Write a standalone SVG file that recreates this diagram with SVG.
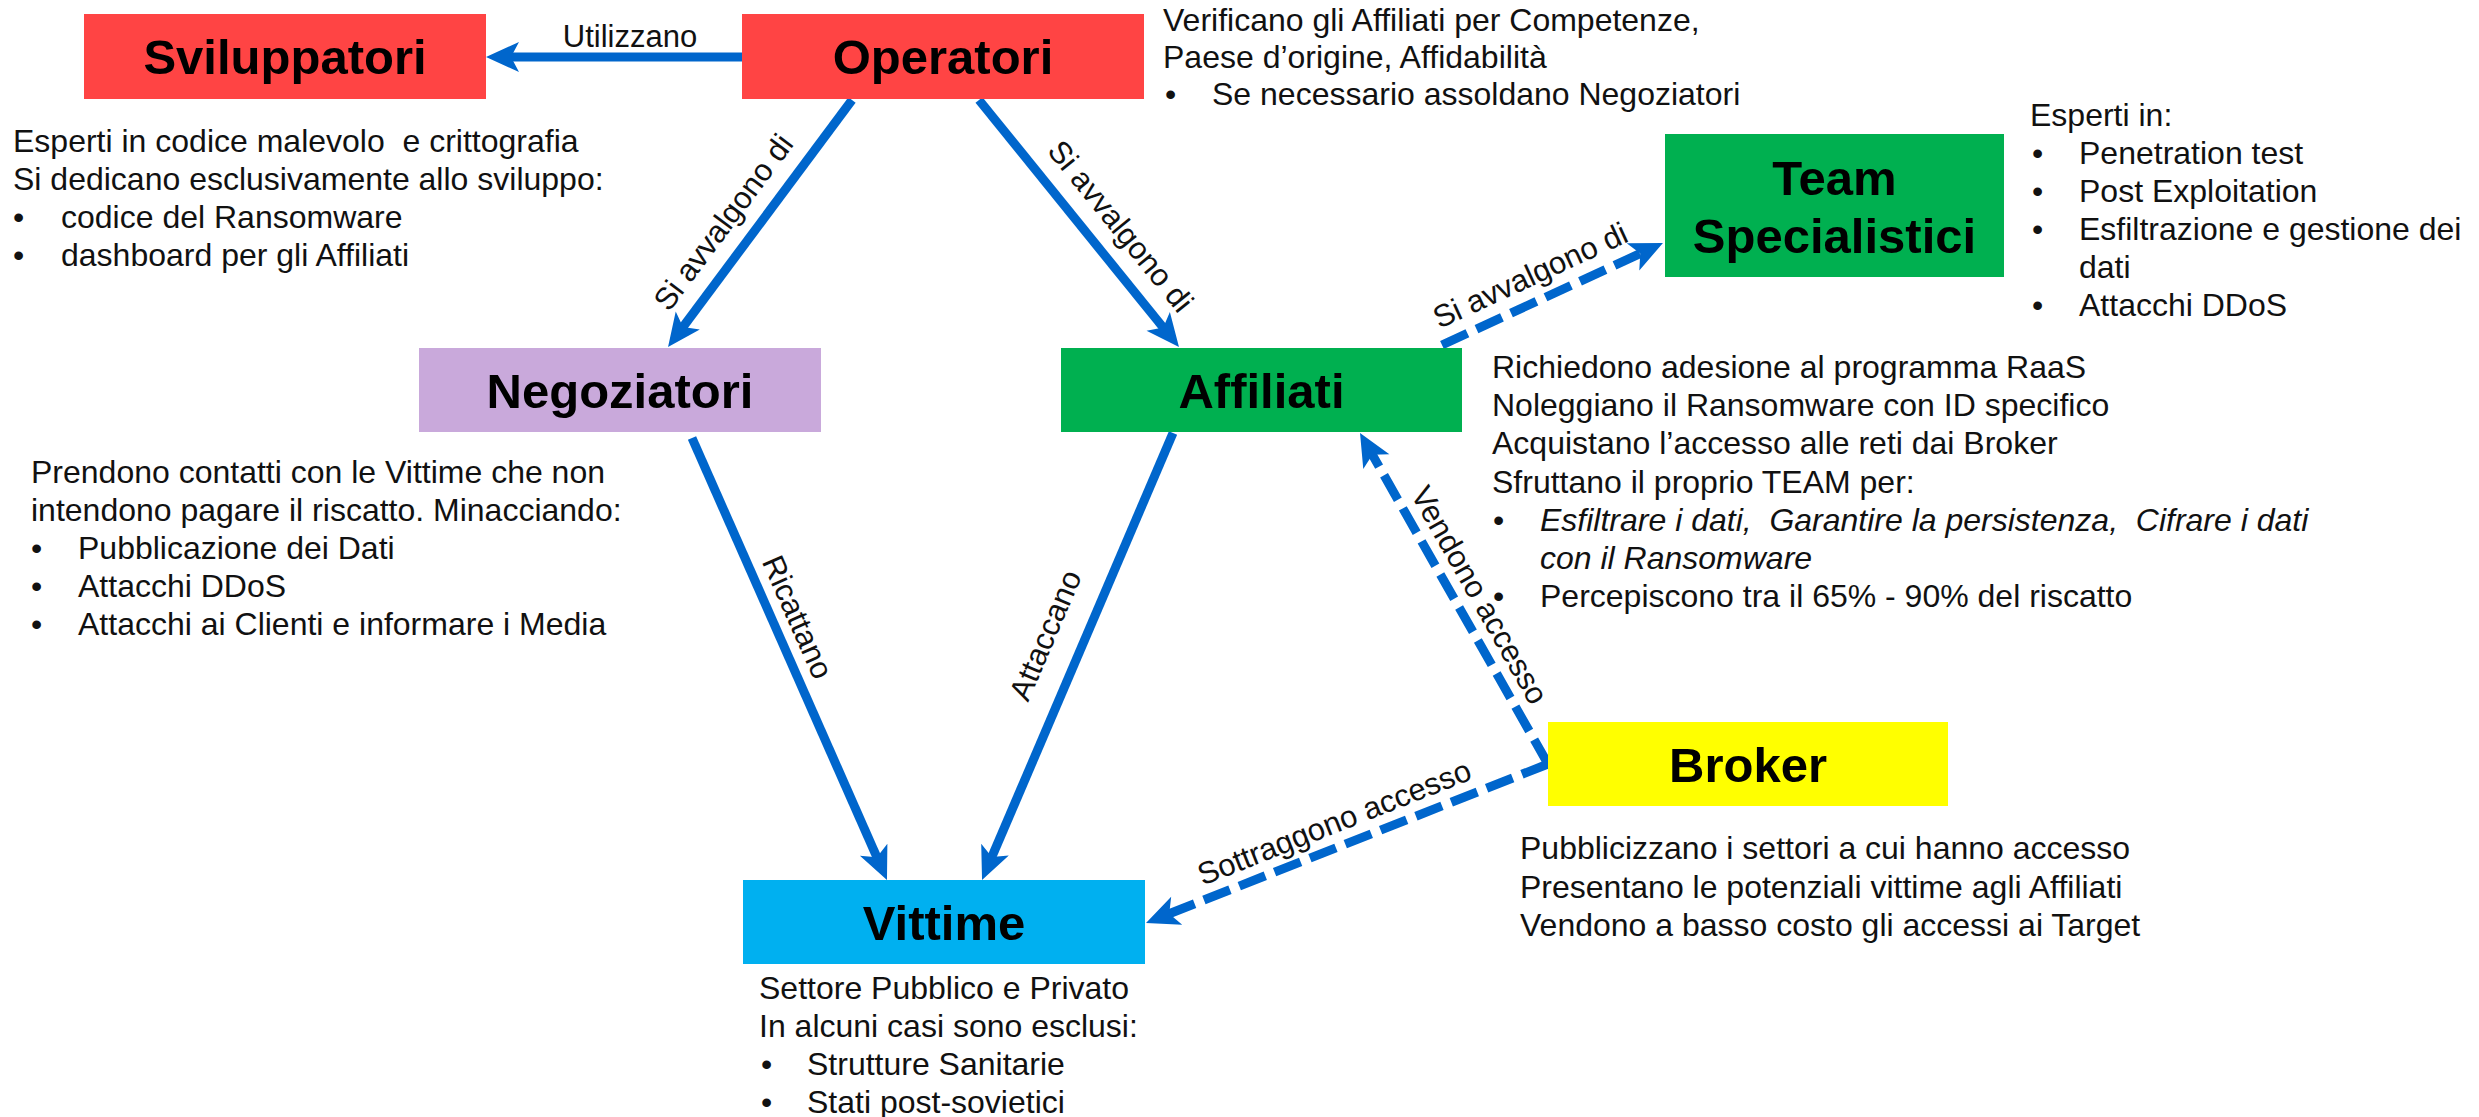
<svg xmlns="http://www.w3.org/2000/svg" width="2479" height="1117" viewBox="0 0 2479 1117">
<style>
.box{stroke:none}
.title{font-family:"Liberation Sans",Arial,sans-serif;font-weight:bold;font-size:49px;fill:#000;text-anchor:middle}
.desc{font-family:"Liberation Sans",Arial,sans-serif;font-size:32px;fill:#111;white-space:pre}
.it{font-style:italic}
.lbl{font-family:"Liberation Sans",Arial,sans-serif;font-size:31px;fill:#111;text-anchor:middle}
.conn{fill:none;stroke:#0066cc;stroke-width:9;marker-end:url(#arr)}
.dash{stroke-dasharray:28 10}
</style>
<defs>
<marker id="arr" markerUnits="userSpaceOnUse" viewBox="-16 -18 40 36" markerWidth="40" markerHeight="36" refX="0" refY="0" orient="auto">
<path d="M20,0 L-13,-15 L-5,0 L-13,15 Z" fill="#0066cc"/>
</marker>
</defs>

<g id="connectors">
<path class="conn" d="M742,57 L506,57"/>
<path class="conn" d="M852,100 L680,331"/>
<path class="conn" d="M979,100 L1166.4,331.5"/>
<path class="conn" d="M692,438 L878.9,861.7"/>
<path class="conn" d="M1173,433 L989.9,861.6"/>
<path class="conn dash" d="M1442,345 L1644.8,251.4"/>
<path class="conn dash" d="M1548,764 L1369.9,450.4"/>
<path class="conn dash" d="M1548,764 L1164.6,915.6"/>
<text class="lbl" x="630" y="47">Utilizzano</text>
<text class="lbl" transform="translate(723,222) rotate(-53.3)" x="0" y="11">Si avvalgono di</text>
<text class="lbl" transform="translate(1121,226) rotate(51)" x="0" y="11">Si avvalgono di</text>
<text class="lbl" transform="translate(798,617) rotate(66.2)" x="0" y="11">Ricattano</text>
<text class="lbl" transform="translate(1045,635) rotate(-66.9)" x="0" y="11">Attaccano</text>
<text class="lbl" transform="translate(1530,275) rotate(-24.8)" x="0" y="11">Si avvalgono di</text>
<text class="lbl" transform="translate(1480,595) rotate(60.4)" x="0" y="11">Vendono accesso</text>
<text class="lbl" transform="translate(1334,822) rotate(-21.6)" x="0" y="11">Sottraggono accesso</text>
</g>

<g id="sviluppatori">
<rect class="box" x="84" y="14" width="402" height="85" fill="#ff4444"/>
<text class="title" x="285" y="74">Sviluppatori</text>
<text class="desc" x="13" y="152">Esperti in codice malevolo  e crittografia</text>
<text class="desc" x="13" y="190">Si dedicano esclusivamente allo sviluppo:</text>
<text class="desc" x="13" y="228">•</text><text class="desc" x="61" y="228">codice del Ransomware</text>
<text class="desc" x="13" y="266">•</text><text class="desc" x="61" y="266">dashboard per gli Affiliati</text>
</g>

<g id="operatori">
<rect class="box" x="742" y="14" width="402" height="85" fill="#ff4444"/>
<text class="title" x="943" y="74">Operatori</text>
<text class="desc" x="1163" y="31">Verificano gli Affiliati per Competenze,</text>
<text class="desc" x="1163" y="68">Paese d’origine, Affidabilità</text>
<text class="desc" x="1165" y="105">•</text><text class="desc" x="1212" y="105">Se necessario assoldano Negoziatori</text>
</g>

<g id="team">
<rect class="box" x="1665" y="134" width="339" height="143" fill="#00b050"/>
<text class="title" x="1834.5" y="195">Team</text>
<text class="title" x="1834.5" y="253">Specialistici</text>
<text class="desc" x="2030" y="126">Esperti in:</text>
<text class="desc" x="2032" y="164">•</text><text class="desc" x="2079" y="164">Penetration test</text>
<text class="desc" x="2032" y="202">•</text><text class="desc" x="2079" y="202">Post Exploitation</text>
<text class="desc" x="2032" y="240">•</text><text class="desc" x="2079" y="240">Esfiltrazione e gestione dei</text>
<text class="desc" x="2079" y="278">dati</text>
<text class="desc" x="2032" y="316">•</text><text class="desc" x="2079" y="316">Attacchi DDoS</text>
</g>

<g id="negoziatori">
<rect class="box" x="419" y="348" width="402" height="84" fill="#c9a9db"/>
<text class="title" x="620" y="408">Negoziatori</text>
<text class="desc" x="31" y="483">Prendono contatti con le Vittime che non</text>
<text class="desc" x="31" y="521">intendono pagare il riscatto. Minacciando:</text>
<text class="desc" x="31" y="559">•</text><text class="desc" x="78" y="559">Pubblicazione dei Dati</text>
<text class="desc" x="31" y="597">•</text><text class="desc" x="78" y="597">Attacchi DDoS</text>
<text class="desc" x="31" y="635">•</text><text class="desc" x="78" y="635">Attacchi ai Clienti e informare i Media</text>
</g>

<g id="affiliati">
<rect class="box" x="1061" y="348" width="401" height="84" fill="#00b050"/>
<text class="title" x="1261.5" y="408">Affiliati</text>
<text class="desc" x="1492" y="378">Richiedono adesione al programma RaaS</text>
<text class="desc" x="1492" y="416">Noleggiano il Ransomware con ID specifico</text>
<text class="desc" x="1492" y="454">Acquistano l’accesso alle reti dai Broker</text>
<text class="desc" x="1492" y="493">Sfruttano il proprio TEAM per:</text>
<text class="desc" x="1493" y="531">•</text><text class="desc it" x="1540" y="531">Esfiltrare i dati,  Garantire la persistenza,  Cifrare i dati</text>
<text class="desc it" x="1540" y="569">con il Ransomware</text>
<text class="desc" x="1493" y="607">•</text><text class="desc" x="1540" y="607">Percepiscono tra il 65% - 90% del riscatto</text>
</g>

<g id="broker">
<rect class="box" x="1548" y="722" width="400" height="84" fill="#ffff00"/>
<text class="title" x="1748" y="782">Broker</text>
<text class="desc" x="1520" y="859">Pubblicizzano i settori a cui hanno accesso</text>
<text class="desc" x="1520" y="898">Presentano le potenziali vittime agli Affiliati</text>
<text class="desc" x="1520" y="936">Vendono a basso costo gli accessi ai Target</text>
</g>

<g id="vittime">
<rect class="box" x="743" y="880" width="402" height="84" fill="#00b0f0"/>
<text class="title" x="944" y="940">Vittime</text>
<text class="desc" x="759" y="999">Settore Pubblico e Privato</text>
<text class="desc" x="759" y="1037">In alcuni casi sono esclusi:</text>
<text class="desc" x="761" y="1075">•</text><text class="desc" x="807" y="1075">Strutture Sanitarie</text>
<text class="desc" x="761" y="1113">•</text><text class="desc" x="807" y="1113">Stati post-sovietici</text>
</g>
</svg>
